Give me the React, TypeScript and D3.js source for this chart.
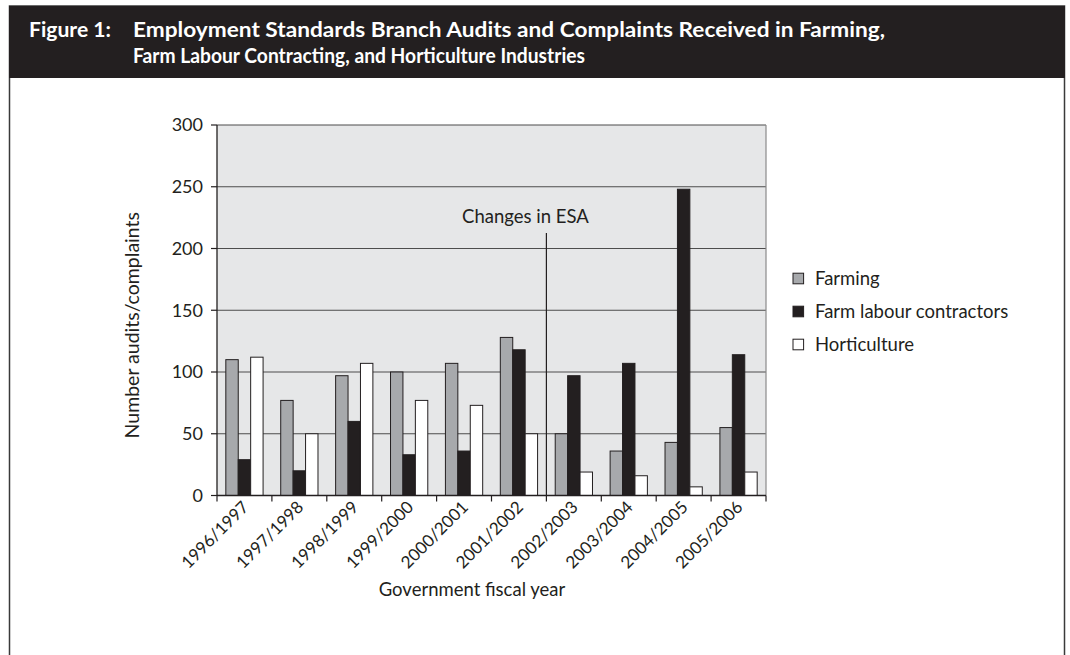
import React from "react";
import * as d3 from "d3";

const years = [
  "1996/1997", "1997/1998", "1998/1999", "1999/2000", "2000/2001",
  "2001/2002", "2002/2003", "2003/2004", "2004/2005", "2005/2006",
];
const seriesNames = ["Farming", "Farm labour contractors", "Horticulture"];
const farming = [110, 77, 97, 100, 107, 128, 50, 36, 43, 55];
const contractors = [29, 20, 60, 33, 36, 118, 97, 107, 248, 114];
const horticulture = [112, 50, 107, 77, 73, 50, 19, 16, 7, 19];
const yTicks = [0, 50, 100, 150, 200, 250, 300];
const esaYear = "2002/2003";
const esaLabel = "Changes in ESA";
const titleLines = [
  "Employment Standards Branch Audits and Complaints Received in Farming,",
  "Farm Labour Contracting, and Horticulture Industries",
];

const fills = ["#a7a9ac", "#231f20", "#ffffff"];
const ink = "#231f20";
const font = "Lato, 'Open Sans', sans-serif";

export default function App() {
  const W = 1070;
  const H = 655;
  const plot = { left: 217, right: 766, top: 125, bottom: 495.5 };

  const x = d3.scaleBand<string>().domain(years).range([plot.left, plot.right]).padding(0);
  const inner = d3
    .scaleBand<string>()
    .domain(seriesNames)
    .range([0, x.bandwidth()])
    .paddingInner(0)
    .paddingOuter(0.71);
  const y = d3.scaleLinear().domain([0, 300]).range([plot.bottom, plot.top]);

  const series = [farming, contractors, horticulture];
  const esaX = x(esaYear)!;

  return (
    <svg
      width={W}
      height={H}
      style={{ position: "absolute", left: 0, top: 0, background: "#fff" }}
      fontFamily={font}
    >
      {/* figure frame and title band */}
      <rect x={9.5} y={6} width={1055} height={H} fill="#fff" stroke="#3a3a3a" strokeWidth={1.5} />
      <rect x={9} y={6} width={1056} height={72} fill={ink} />
      <text x={29} y={37} fill="#fff" fontSize={21.5} fontWeight={700} textLength={82} lengthAdjust="spacingAndGlyphs">
        Figure 1:
      </text>
      {titleLines.map((t, i) => (
        <text
          key={i}
          x={133}
          y={37 + i * 26}
          fill="#fff"
          fontSize={21.5}
          fontWeight={700}
          textLength={i === 0 ? 752 : 452}
          lengthAdjust="spacingAndGlyphs"
        >
          {t}
        </text>
      ))}

      {/* plot background */}
      <rect
        x={plot.left}
        y={plot.top}
        width={plot.right - plot.left}
        height={plot.bottom - plot.top}
        fill="#e6e7e8"
      />
      {/* gridlines */}
      {yTicks.slice(1).map((t) => (
        <line key={t} x1={plot.left} x2={plot.right} y1={y(t)} y2={y(t)} stroke="#4d4d4d" strokeWidth={1.2} />
      ))}
      <line x1={plot.right} x2={plot.right} y1={plot.top} y2={plot.bottom} stroke="#8a8a8a" strokeWidth={1.2} />

      {/* bars */}
      {series.map((vals, si) =>
        vals.map((v, i) => (
          <rect
            key={`${si}-${i}`}
            x={x(years[i])! + inner(seriesNames[si])!}
            y={y(v)}
            width={inner.bandwidth()}
            height={plot.bottom - y(v)}
            fill={fills[si]}
            stroke={ink}
            strokeWidth={1}
          />
        ))
      )}

      {/* ESA marker */}
      <line x1={esaX} x2={esaX} y1={233} y2={plot.bottom} stroke={ink} strokeWidth={1.2} />
      <text x={esaX - 21} y={223} textAnchor="middle" fontSize={18.5} fill={ink}>
        {esaLabel}
      </text>

      {/* y axis */}
      <line x1={plot.left} x2={plot.left} y1={plot.top} y2={plot.bottom} stroke={ink} strokeWidth={1.3} />
      {yTicks.map((t) => (
        <g key={t}>
          <line x1={plot.left - 6} x2={plot.left} y1={y(t)} y2={y(t)} stroke={ink} strokeWidth={1.2} />
          <text x={203} y={y(t)} dy="0.35em" textAnchor="end" fontSize={18} fill={ink}>
            {t}
          </text>
        </g>
      ))}
      <text
        transform={`translate(139, ${(plot.top + plot.bottom) / 2 + 15}) rotate(-90)`}
        textAnchor="middle"
        fontSize={19.5}
        fill={ink}
      >
        Number audits/complaints
      </text>

      {/* x axis */}
      <line x1={plot.left} x2={plot.right} y1={plot.bottom} y2={plot.bottom} stroke={ink} strokeWidth={1.3} />
      {[...years.map((yr) => x(yr)!), plot.right].map((px, i) => (
        <line key={i} x1={px} x2={px} y1={plot.bottom} y2={plot.bottom + 6} stroke={ink} strokeWidth={1.2} />
      ))}
      {years.map((yr) => {
        const cx = x(yr)! + x.bandwidth() / 2 + 1;
        return (
          <text
            key={yr}
            transform={`translate(${cx}, 504) rotate(-45)`}
            textAnchor="end"
            dy="0.35em"
            fontSize={17}
            fill={ink}
          >
            {yr}
          </text>
        );
      })}
      <text x={472} y={596} textAnchor="middle" fontSize={18.5} fill={ink}>
        Government fiscal year
      </text>

      {/* legend */}
      {seriesNames.map((name, i) => (
        <g key={name} transform={`translate(793, ${278.5 + i * 33})`}>
          <rect x={0} y={-5.3} width={10.6} height={10.6} fill={fills[i]} stroke={ink} strokeWidth={1} />
          <text x={22} y={0} dy="0.35em" fontSize={18.5} fill={ink}>
            {name}
          </text>
        </g>
      ))}
    </svg>
  );
}
